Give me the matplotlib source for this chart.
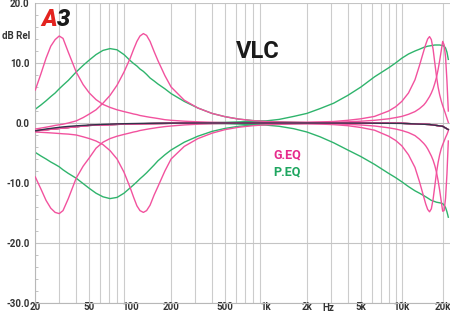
import matplotlib
matplotlib.use("Agg")
import matplotlib.pyplot as plt
from matplotlib.ticker import FixedLocator, NullFormatter

plt.rcParams['font.family'] = ['Roboto', 'DejaVu Sans']

# frequency grids (Hz)
f_lo = [20, 22, 24, 26, 28, 30, 32, 35, 40, 45, 50, 56, 63, 71, 80, 90, 100, 106, 112, 118, 125,
        132, 140, 150, 160, 180, 200, 250, 315, 400, 500, 630, 800, 1000, 2000, 5000, 10000,
        16000, 20000, 22000]
f_hi = [20, 50, 100, 200, 500, 1000, 1250, 1600, 2000, 2500, 3150, 4000, 5000, 6300, 8000, 9000,
        10000, 11200, 12500, 13500, 14500, 15000, 15500, 16000, 16500, 17000, 17500, 18000, 18500,
        19000, 19500, 20000, 20500, 21000, 21500, 22000]

# baseline (flat) response, dB
flat = [-1.3, -1.15, -1.0, -0.9, -0.8, -0.72, -0.65, -0.57, -0.47, -0.4, -0.34, -0.28, -0.23, -0.19,
        -0.15, -0.12, -0.1, -0.09, -0.08, -0.07, -0.06, -0.055, -0.05, -0.045, -0.04, -0.03, -0.02,
        -0.01, 0, 0, 0, 0, 0, 0, 0, -0.02, -0.07, -0.25, -0.55, -1.1]

# G.EQ curves (magenta)
geq_31_up = [5.5, 8.2, 10.8, 12.8, 13.9, 14.5, 14.1, 11.8, 8.5, 6.4, 5.0, 3.9, 3.1, 2.6, 2.2, 1.9,
             1.65, 1.5, 1.4, 1.25, 1.15, 1.05, 0.95, 0.85, 0.75, 0.55, 0.45, 0.3, 0.2, 0.12, 0.07,
             0.04, 0.02, 0.01, 0, 0, -0.05, -0.25, -0.55, -1.1]
geq_31_dn = [-9.0, -11.0, -12.9, -14.2, -14.9, -15.1, -14.6, -12.6, -9.2, -7.2, -5.8, -4.2, -3.2,
             -2.6, -2.2, -1.9, -1.65, -1.5, -1.4, -1.25, -1.15, -1.05, -0.95, -0.85, -0.75, -0.6,
             -0.5, -0.32, -0.2, -0.12, -0.08, -0.05, -0.03, -0.02, 0, 0, -0.05, -0.25, -0.55, -1.1]
geq_125_up = [-1.0, -0.85, -0.7, -0.55, -0.4, -0.3, -0.2, 0.0, 0.35, 0.9, 1.5, 2.2, 3.3, 4.6, 6.3,
              8.5, 10.8, 12.3, 13.6, 14.5, 14.9, 14.6, 13.6, 11.9, 10.4, 7.9, 6.0, 3.8, 2.5, 1.6,
              1.05, 0.65, 0.4, 0.25, 0.05, 0, -0.05, -0.25, -0.55, -1.1]
geq_125_dn = [-1.5, -1.55, -1.6, -1.65, -1.7, -1.75, -1.8, -1.85, -2.0, -2.3, -2.6, -3.0, -3.6,
              -4.6, -6.0, -8.2, -10.8, -12.4, -13.8, -14.6, -14.9, -14.6, -13.7, -12.0, -10.6,
              -8.0, -6.0, -3.9, -2.6, -1.7, -1.1, -0.7, -0.45, -0.3, -0.08, -0.02, -0.05, -0.25,
              -0.55, -1.1]
geq_16k_up = [-1.3, -0.4, -0.15, -0.05, 0.0, 0.05, 0.07, 0.1, 0.13, 0.18, 0.25, 0.45, 0.7, 1.1, 2.0,
              2.7, 3.6, 5.0, 7.2, 9.6, 12.0, 13.1, 14.0, 14.4, 13.9, 12.3, 10.0, 7.8, 6.0, 4.7,
              3.7, 2.9, 2.2, 1.5, 0.8, 0.1]
geq_20k_up = [-1.3, -0.4, -0.15, -0.05, 0.0, 0.02, 0.03, 0.05, 0.07, 0.1, 0.13, 0.2, 0.3, 0.45, 0.7,
              0.9, 1.1, 1.45, 1.9, 2.4, 3.0, 3.4, 3.9, 4.4, 5.0, 5.7, 6.6, 7.6, 8.9, 10.4, 12.0,
              13.6, 13.0, 11.0, 7.0, 2.0]
geq_16k_dn = [-1.3, -0.4, -0.15, -0.05, 0.0, -0.05, -0.07, -0.1, -0.13, -0.18, -0.27, -0.45, -0.75,
              -1.2, -2.2, -2.9, -3.8, -5.3, -7.4, -9.8, -12.3, -13.5, -14.4, -14.8, -14.3, -12.7,
              -10.5, -8.3, -6.6, -5.3, -4.3, -3.6, -3.0, -2.4, -1.9, -1.3]
geq_20k_dn = [-1.3, -0.4, -0.15, -0.05, 0.0, -0.02, -0.03, -0.05, -0.07, -0.1, -0.15, -0.22, -0.33,
              -0.5, -0.8, -1.0, -1.25, -1.6, -2.1, -2.7, -3.4, -3.8, -4.3, -4.9, -5.5, -6.2, -7.1,
              -8.2, -9.6, -11.2, -13.0, -14.7, -14.6, -12.5, -8.5, -3.0]

# P.EQ curves (green)
peq_lo_up = [2.3, 3.0, 3.7, 4.4, 5.0, 5.7, 6.3, 7.1, 8.5, 9.6, 10.5, 11.4, 12.1, 12.4, 12.2, 11.4,
             10.4, 9.9, 9.5, 9.0, 8.6, 8.1, 7.5, 7.0, 6.5, 5.7, 4.9, 3.6, 2.5, 1.6, 1.05, 0.65,
             0.4, 0.25, 0.05, 0, -0.05, -0.25, -0.55, -1.1]
peq_lo_dn = [-4.9, -5.5, -6.0, -6.5, -6.9, -7.3, -7.8, -8.4, -9.2, -10.1, -10.9, -11.7, -12.3,
             -12.6, -12.4, -11.7, -10.8, -10.3, -9.8, -9.3, -8.8, -8.3, -7.7, -7.0, -6.3, -5.3,
             -4.5, -3.2, -2.2, -1.4, -0.9, -0.55, -0.35, -0.2, -0.05, 0, -0.05, -0.25, -0.55, -1.1]
peq_hi_up = [-1.3, -0.4, -0.15, -0.05, 0.1, 0.35, 0.6, 1.1, 1.6, 2.4, 3.3, 4.6, 6.0, 7.7, 9.2,
             10.0, 10.8, 11.5, 12.0, 12.3, 12.6, 12.7, 12.8, 12.85, 12.9, 12.95, 13.0, 13.0, 13.0,
             13.0, 12.95, 12.9, 12.8, 12.5, 11.8, 10.6]
peq_hi_dn = [-1.3, -0.4, -0.15, -0.05, -0.1, -0.35, -0.55, -0.95, -1.5, -2.3, -3.3, -4.5, -5.6,
             -6.9, -8.4, -9.1, -9.8, -10.6, -11.3, -11.7, -12.1, -12.3, -12.5, -12.7, -12.9, -13.0,
             -13.1, -13.2, -13.25, -13.3, -13.35, -13.45, -13.7, -14.1, -14.8, -15.7]

x_ticks = [20, 50, 100, 200, 500, 1000, 2000, 5000, 10000, 20000]
x_labels = ['20', '50', '100', '200', '500', '1k', '2k', '5k', '10k', '20k']
y_ticks = [-30, -20, -10, 0, 10, 20]
y_labels = ['-30.0', '-20.0', '-10.0', '0.0', '10.0', '20.0']

pink = '#f2529e'
green = '#2fb46c'

fig = plt.figure(figsize=(4.5, 3.13), dpi=100)
ax = fig.add_axes([35.3 / 450, 10 / 313, 414.7 / 450, 300 / 313])
ax.set_xscale('log')
ax.set_xlim(20, 22640)
ax.set_ylim(-30, 20)

# grid
grid_f = [f * d for d in (10, 100, 1000) for f in range(2, 10)] + [10000, 20000]
for f in grid_f:
    ax.axvline(f, color='#cccccc', lw=0.8, zorder=0)
for y in y_ticks:
    ax.axhline(y, color='#c4c4c4', lw=0.8, zorder=0)

for v in [peq_lo_up, peq_lo_dn]:
    ax.plot(f_lo, v, color=green, lw=1.0, zorder=2)
for v in [peq_hi_up, peq_hi_dn]:
    ax.plot(f_hi, v, color=green, lw=1.0, zorder=2)
for v in [geq_31_up, geq_31_dn, geq_125_up, geq_125_dn]:
    ax.plot(f_lo, v, color=pink, lw=1.0, zorder=3)
for v in [geq_16k_up, geq_20k_up, geq_16k_dn, geq_20k_dn]:
    ax.plot(f_hi, v, color=pink, lw=1.0, zorder=3)
ax.plot(f_lo, flat, color='#33334a', lw=1.0, zorder=4)

for s in ['top', 'right']:
    ax.spines[s].set_visible(False)
for s in ['left', 'bottom']:
    ax.spines[s].set_color('#b8b8b8')
    ax.spines[s].set_linewidth(0.8)

ax.xaxis.set_major_locator(FixedLocator(x_ticks))
ax.xaxis.set_minor_formatter(NullFormatter())
ax.set_xticklabels(x_labels)
ax.set_yticks(y_ticks)
ax.set_yticklabels(y_labels)
ax.tick_params(axis='x', which='both', length=0, pad=-0.5, labelsize=7, labelcolor='#333333')
ax.tick_params(axis='y', which='major', length=0, pad=4, labelsize=7, labelcolor='#333333')
ax.yaxis.set_minor_locator(FixedLocator(range(-30, 21, 2)))
ax.tick_params(axis='y', which='minor', length=2, direction='in', color='#b8b8b8')
for lbl in ax.get_xticklabels() + ax.get_yticklabels():
    lbl.set_fontweight('bold')

fig.text(328 / 450, 1 - 308 / 313, 'Hz', ha='center', va='center', fontsize=7, fontweight='bold',
         color='#333333')
fig.text(2 / 450, 1 - 36 / 313, 'dB Rel', ha='left', va='center', fontsize=7, fontweight='bold',
         color='#333333')
fig.text(258 / 450, 1 - 51 / 313, 'VLC', ha='center', va='center', fontsize=17, fontweight='bold',
         color='#1a1a1a')
fig.text(273 / 450, 1 - 155 / 313, 'G.EQ', ha='left', va='center', fontsize=9, fontweight='bold',
         color='#e62a8c')
fig.text(273 / 450, 1 - 172 / 313, 'P.EQ', ha='left', va='center', fontsize=9, fontweight='bold',
         color='#1fa660')

# A3 logo
fig.text(41 / 450, 1 - 20 / 313, 'A', ha='left', va='center', fontsize=17, fontweight='heavy',
         style='italic', color='#e3231f')
fig.text(57 / 450, 1 - 20 / 313, '3', ha='left', va='center', fontsize=17, fontweight='heavy',
         style='italic', color='#1a1a1a')

fig.savefig('out.png', dpi=100)
